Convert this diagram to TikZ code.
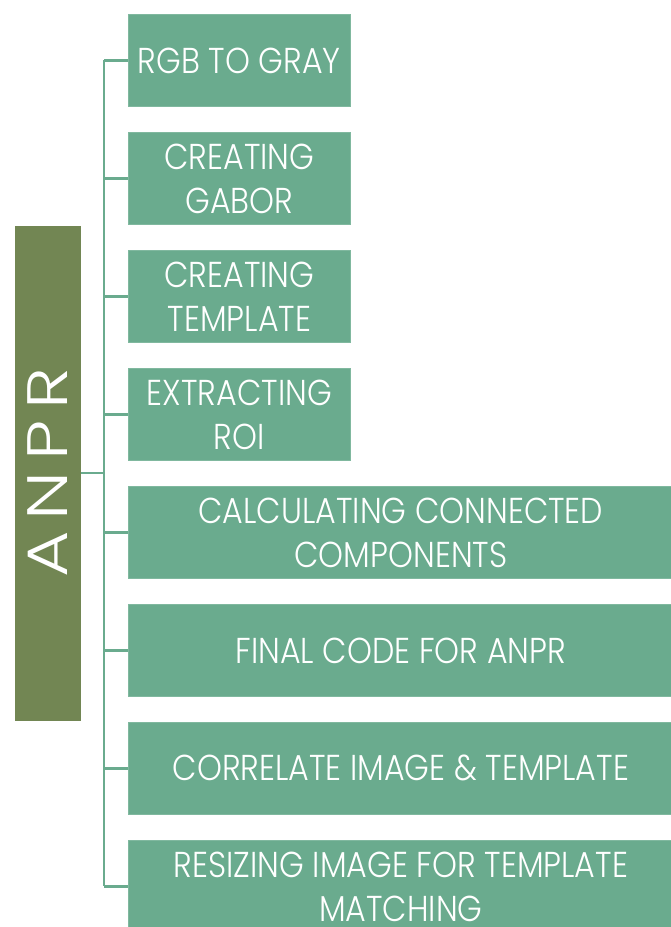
\documentclass[tikz,border=0pt]{standalone}
\usepackage{fontspec}
\setmainfont{Poppins}[UprightFont={* Light}, FakeStretch=0.88]
\newfontfamily\rootfont{Poppins}[UprightFont={* Light}, FakeStretch=1.25, LetterSpace=19]
\definecolor{boxgreen}{HTML}{6AAB8E}
\definecolor{olive}{HTML}{728653}
\tikzset{
  stepbox/.style={fill=boxgreen, draw=boxgreen!85!white, line width=0.8pt, inner sep=0pt, anchor=north west,
    minimum height=92pt, text=white, align=center, font=\fontsize{36}{44}\selectfont},
  narrowbox/.style={stepbox, minimum width=222pt},
  widebox/.style={stepbox, minimum width=545pt},
  rootbox/.style={fill=olive, inner sep=0pt, rotate=90, minimum width=495pt, minimum height=66pt,
    text=white, font=\rootfont\fontsize{57}{60}\selectfont},
  conn/.style={draw=boxgreen, line width=2.6pt}
}
\begin{document}
\begin{tikzpicture}[x=1pt,y=-1pt]
\useasboundingbox (0,0) rectangle (670,927);
\node[rootbox] (anpr) at (48,473) {ANPR};
\node[narrowbox] (b1) at (128,14) {RGB TO GRAY};
\node[narrowbox] (b2) at (128,132) {CREATING\\GABOR};
\node[narrowbox] (b3) at (128,250) {CREATING\\TEMPLATE};
\node[narrowbox] (b4) at (128,368) {EXTRACTING\\ROI};
\node[widebox] (b5) at (128,486) {CALCULATING CONNECTED\\COMPONENTS};
\node[widebox] (b6) at (128,604) {FINAL CODE FOR ANPR};
\node[widebox] (b7) at (128,722) {CORRELATE IMAGE \& TEMPLATE};
\node[widebox] (b8) at (128,840) {RESIZING IMAGE FOR TEMPLATE\\MATCHING};
\coordinate (spine) at (104,0);
\draw[conn] (spine |- b1.west) -- (spine |- b8.west);
\draw[conn] (anpr.south) -- (spine |- anpr.south);
\foreach \b in {b1,b2,b3,b4,b5,b6,b7,b8}
  \draw[conn] (spine |- \b.west) -- (\b.west);
\end{tikzpicture}
\end{document}
